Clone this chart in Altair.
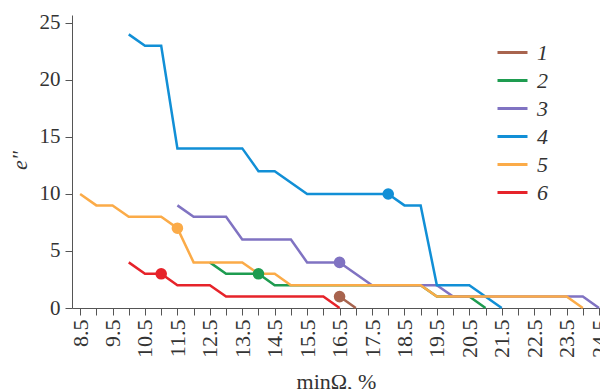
import altair as alt
import pandas as pd

series_names = ["1", "2", "3", "4", "5", "6"]
colors = ["#a8644e", "#1e9c50", "#8073c2", "#118fd6", "#fbab48", "#e6232a"]

x1 = [16.5, 17.0]
y1 = [1, 0]
x2 = [12.5, 13.0, 14.0, 14.5, 19.0, 19.5, 20.5, 21.0]
y2 = [4, 3, 3, 2, 2, 1, 1, 0]
x3 = [11.5, 12.0, 13.0, 13.5, 15.0, 15.5, 16.5, 17.5, 19.5, 20.0, 24.0, 24.5]
y3 = [9, 8, 8, 6, 6, 4, 4, 2, 2, 1, 1, 0]
x4 = [10.0, 10.5, 11.0, 11.5, 13.5, 14.0, 14.5, 15.5, 18.0, 18.5, 19.0, 19.5, 20.5, 21.5]
y4 = [24, 23, 23, 14, 14, 12, 12, 10, 10, 9, 9, 2, 2, 0]
x5 = [8.5, 9.0, 9.5, 10.0, 11.0, 11.5, 12.0, 13.5, 14.0, 14.5, 15.0, 19.0, 19.5, 23.5, 24.0]
y5 = [10, 9, 9, 8, 8, 7, 4, 4, 3, 3, 2, 2, 1, 1, 0]
x6 = [10.0, 10.5, 11.0, 11.5, 12.5, 13.0, 16.0, 16.5]
y6 = [4, 3, 3, 2, 2, 1, 1, 0]

marker_x = [16.5, 14.0, 16.5, 18.0, 11.5, 11.0]
marker_y = [1, 3, 4, 10, 7, 3]

xs = [x1, x2, x3, x4, x5, x6]
ys = [y1, y2, y3, y4, y5, y6]
rows = []
for name, xv, yv in zip(series_names, xs, ys):
    for i, (a, b) in enumerate(zip(xv, yv)):
        rows.append({"series": name, "x": a, "y": b, "i": i})
df = pd.DataFrame(rows)
mk = pd.DataFrame({"series": series_names, "x": marker_x, "y": marker_y})

tick_vals = [8.5 + 0.5 * k for k in range(33)]
FONT = "Liberation Serif"

xscale = alt.Scale(domain=[8.25, 24.53], nice=False, zero=False)
yscale = alt.Scale(domain=[0, 25.7], nice=False, zero=True)
cscale = alt.Scale(domain=series_names, range=colors)

xaxis = alt.Axis(values=tick_vals, labelAngle=-90, grid=False,
                 labelExpr="abs(datum.value % 1 - 0.5) < 0.01 ? format(datum.value, '.1f') : ''",
                 labelFont=FONT, labelFontSize=22, labelColor="#333333",
                 tickSize=7, tickColor="#555555", domainColor="#555555",
                 labelPadding=4, labelOverlap=False, labelFlush=False, labelBound=False,
                 title="minΩ, %", titleFont=FONT, titleFontSize=22, titleFontWeight="normal",
                 titleColor="#333333", titleX=264, titleY=80, titleBaseline="alphabetic",
                 titleAlign="center")
yaxis = alt.Axis(values=[0, 5, 10, 15, 20, 25], grid=False,
                 labelFont=FONT, labelFontSize=21, labelColor="#333333",
                 tickSize=7, tickColor="#555555", domainColor="#555555",
                 labelPadding=5, labelOverlap=False,
                 title='e"', titleFont=FONT, titleFontSize=22, titleFontStyle="italic",
                 titleFontWeight="normal", titleColor="#333333",
                 titleX=-53, titleY=145, titleBaseline="middle", titleAlign="center")

lines = alt.Chart(df).mark_line(strokeWidth=2.5, strokeJoin="miter").encode(
    x=alt.X("x:Q", scale=xscale, axis=xaxis),
    y=alt.Y("y:Q", scale=yscale, axis=yaxis),
    color=alt.Color("series:N", scale=cscale,
                    legend=alt.Legend(orient="none", legendX=424, legendY=21, title=None,
                                      symbolType="stroke", symbolSize=900, symbolStrokeWidth=3,
                                      labelFont=FONT, labelFontSize=22, labelFontStyle="italic",
                                      labelColor="#333333", labelOffset=8, rowPadding=-2)),
    detail="series:N",
    order=alt.Order("i:Q"),
)

points = alt.Chart(mk).mark_circle(size=135, opacity=1).encode(
    x=alt.X("x:Q", scale=xscale, axis=xaxis),
    y=alt.Y("y:Q", scale=yscale, axis=yaxis),
    color=alt.Color("series:N", scale=cscale, legend=None),
)

chart = alt.layer(lines, points).properties(
    width=528, height=293,
    autosize=alt.AutoSizeParams(type="none"),
    padding={"left": 64, "top": 7, "right": 0, "bottom": 100},
).configure(font=FONT).configure_view(stroke=None).configure_axis(labelOverlap=False)

chart.save("out.html", embed_options={"renderer": "svg", "actions": False})
